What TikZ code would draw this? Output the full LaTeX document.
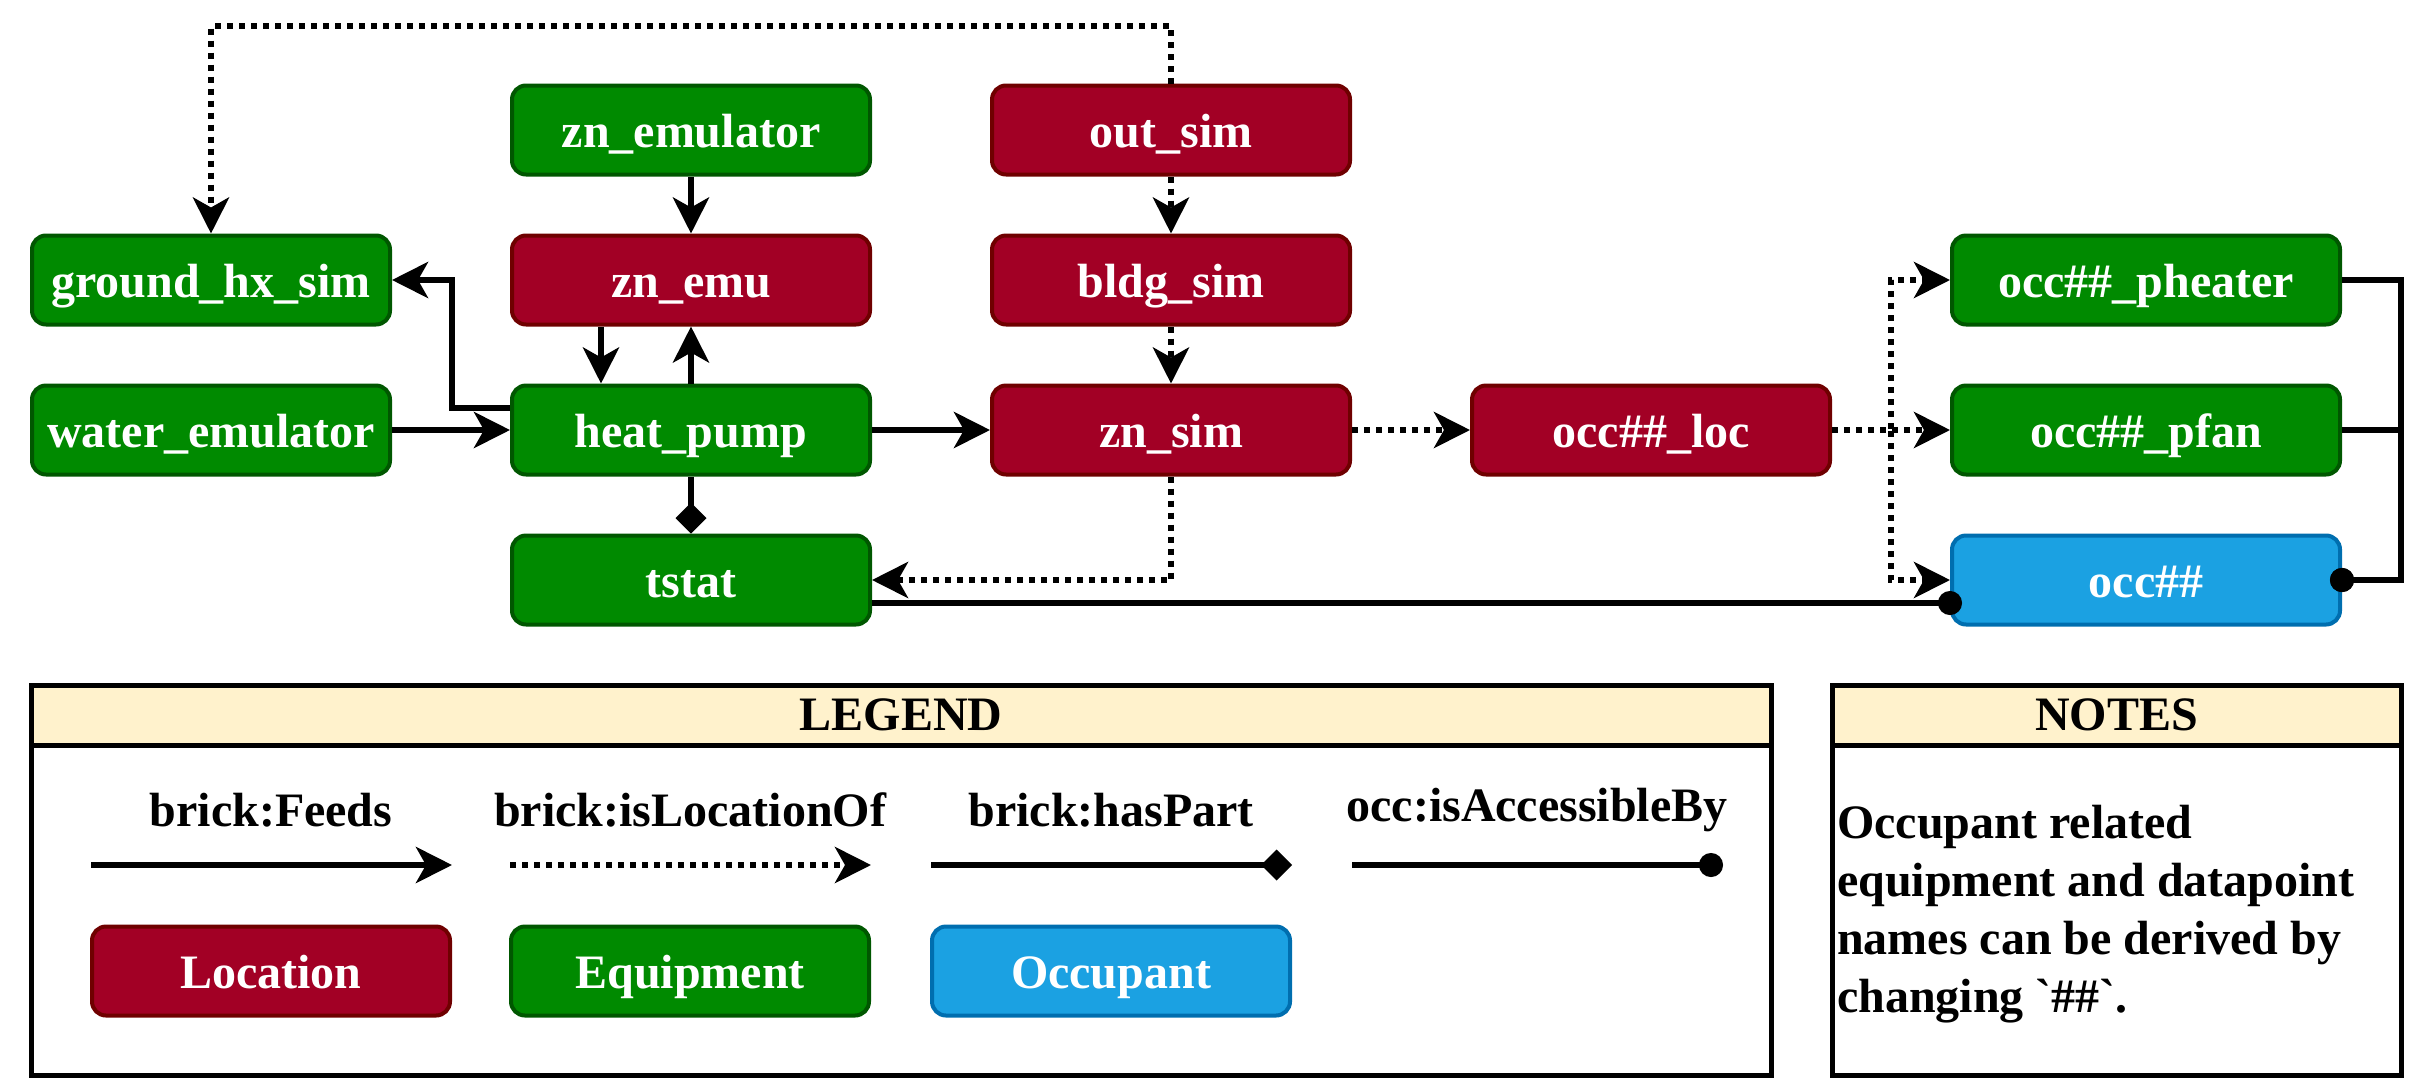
\documentclass[tikz,border=0pt]{standalone}
\usepackage{fontspec}
\setmainfont{Liberation Serif}
\usetikzlibrary{arrows.meta}
\definecolor{locfill}{HTML}{A20025}
\definecolor{locdraw}{HTML}{6F0000}
\definecolor{eqfill}{HTML}{008A00}
\definecolor{eqdraw}{HTML}{005700}
\definecolor{occfill}{HTML}{1BA1E2}
\definecolor{occdraw}{HTML}{006EAF}
\definecolor{hdrfill}{HTML}{FFF2CC}
\tikzset{
  txt/.style={font=\fontsize{48pt}{58pt}\selectfont\bfseries},
  box/.style={txt, rounded corners=14pt, line width=4pt, text=white,
              minimum width=358pt, minimum height=89pt, inner sep=0pt,
              text height=44pt, text depth=10pt},
  wide/.style={minimum width=388pt},
  locbox/.style={box, fill=locfill, draw=locdraw},
  eqbox/.style={box, fill=eqfill, draw=eqdraw},
  occbox/.style={box, fill=occfill, draw=occdraw},
  feeds/.style={line width=6pt, -{Stealth[length=36pt,width=36pt,inset=10pt]}},
  locof/.style={line width=6pt, dash pattern=on 6pt off 6pt, -{Stealth[length=36pt,width=36pt,inset=10pt]}},
  haspart/.style={line width=6pt, -{Diamond[length=31pt,width=31pt]}},
  access/.style={line width=6pt, -{Circle[length=24pt]}, shorten >=-12pt},
  accesskey/.style={line width=6pt, -{Circle[length=24pt]}},
  panelhead/.style={txt, draw=black, fill=hdrfill, line width=5pt, inner sep=0pt, outer sep=0pt, anchor=north west},
  panelbody/.style={draw=black, line width=5pt, inner sep=0pt, outer sep=0pt, anchor=north west},
  keylabel/.style={txt, inner sep=0pt}
}
\begin{document}
\begin{tikzpicture}[x=1pt,y=-1pt]
\useasboundingbox (0,0) rectangle (2430,1077);
% main nodes
\node[eqbox] (ground) at (211,280) {ground\_hx\_sim};
\node[eqbox] (water) at (211,430) {water\_emulator};
\node[eqbox] (znemulator) at (691,130) {zn\_emulator};
\node[locbox] (znemu) at (691,280) {zn\_emu};
\node[eqbox] (hp) at (691,430) {heat\_pump};
\node[eqbox] (tstat) at (691,580) {tstat};
\node[locbox] (out) at (1171,130) {out\_sim};
\node[locbox] (bldg) at (1171,280) {bldg\_sim};
\node[locbox] (znsim) at (1171,430) {zn\_sim};
\node[locbox] (occloc) at (1651,430) {occ\#\#\_loc};
\node[eqbox, wide] (pheater) at (2146,280) {occ\#\#\_pheater};
\node[eqbox, wide] (pfan) at (2146,430) {occ\#\#\_pfan};
\node[occbox, wide] (occ) at (2146,580) {occ\#\#};
% feeds
\draw[feeds] (znemulator.south) -- (znemu.north);
\draw[feeds] ([xshift=-90pt]znemu.south) -- ([xshift=-90pt]hp.north);
\draw[feeds] (hp.north) -- (znemu.south);
\coordinate (hpbend) at (452,408);
\draw[feeds] ([yshift=22pt]hp.west) -- (hpbend) |- (ground.east);
\draw[feeds] (water.east) -- (hp.west);
\draw[feeds] (hp.east) -- (znsim.west);
% has part
\draw[haspart] (hp.south) -- (tstat.north);
% location of
\coordinate (looptop) at (211,26);
\draw[locof] (out.north) |- (looptop) -- (ground.north);
\draw[locof] (out.south) -- (bldg.north);
\draw[locof] (bldg.south) -- (znsim.north);
\draw[locof] (znsim.south) |- (tstat.east);
\draw[locof] (znsim.east) -- (occloc.west);
\coordinate (split) at (1891,430);
\draw[locof] (occloc.east) -- (split) |- (pheater.west);
\draw[locof] (occloc.east) -- (pfan.west);
\draw[locof] (occloc.east) -- (split) |- (occ.west);
% accessible by
\draw[access] ([yshift=-23pt]tstat.east) -- ([yshift=-23pt]occ.west);
\coordinate (rbus) at (2401,280);
\draw[access] (pheater.east) -- (rbus) |- (occ.east);
\draw[access] (pfan.east) -- (pfan.east -| rbus) |- (occ.east);
% legend panel
\node[panelhead, minimum width=1740pt, minimum height=60pt] (leghead) at (31,685) {LEGEND};
\node[panelbody, minimum width=1740pt, minimum height=330pt] (legbody) at (leghead.south west) {};
\node[keylabel] (kfeeds) at (271,810) {brick:Feeds};
\node[keylabel] (klocof) at (690,810) {brick:isLocationOf};
\node[keylabel] (kpart) at (1111,810) {brick:hasPart};
\node[keylabel] (kacc) at (1537,810) {occ:isAccessibleBy};
\coordinate (fa) at (91,865);   \coordinate (fb) at (452,865);
\coordinate (la) at (510,865);  \coordinate (lb) at (871,865);
\coordinate (pa) at (931,865);  \coordinate (pb) at (1292,865);
\coordinate (aa) at (1352,865); \coordinate (ab) at (1723,865);
\draw[feeds] (fa) -- (fb);
\draw[locof] (la) -- (lb);
\draw[haspart] (pa) -- (pb);
\draw[accesskey] (aa) -- (ab);
\node[locbox] (keyloc) at (271,971) {Location};
\node[eqbox] (keyeq) at (690,971) {Equipment};
\node[occbox] (keyocc) at (1111,971) {Occupant};
% notes panel
\node[panelhead, minimum width=569pt, minimum height=60pt] (notehead) at (1832,685) {NOTES};
\node[panelbody, minimum width=569pt, minimum height=330pt] (notebody) at (notehead.south west) {};
\node[txt, anchor=north west, align=left, inner sep=0pt] (notetext) at (1837,805)
  {Occupant related\\equipment and datapoint\\names can be derived by\\changing \textasciigrave\#\#\textasciigrave.};
\end{tikzpicture}
\end{document}
